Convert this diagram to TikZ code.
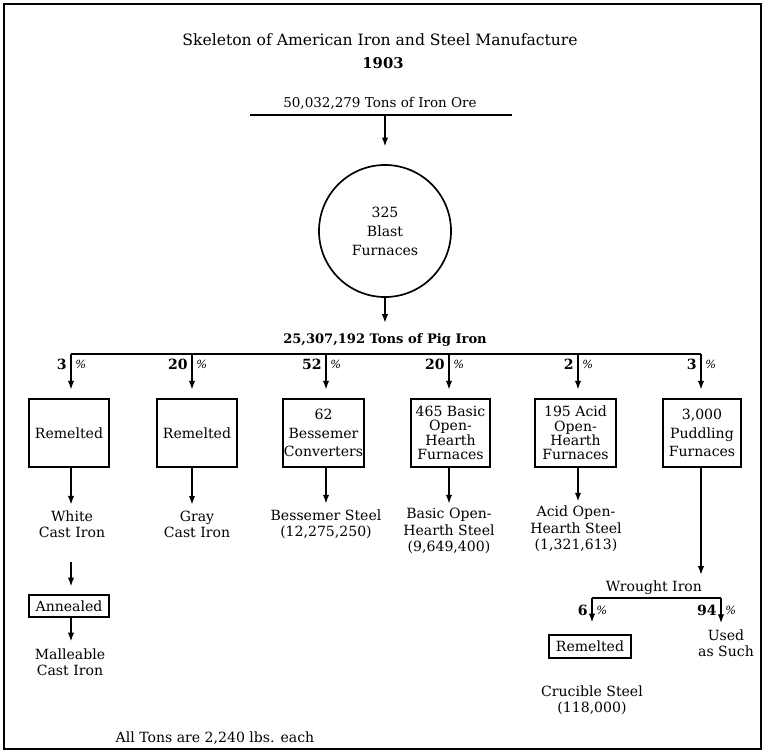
\documentclass[tikz,border=0pt]{standalone}
\usepackage{fontspec}
\setmainfont{DejaVu Serif}
\usetikzlibrary{arrows.meta,positioning}

\tikzset{
  box/.style={draw, line width=1.2pt, inner sep=0pt, align=center,
    minimum height=1.7cm, font=\fontsize{10}{13}\selectfont},
  lbl/.style={align=center, inner sep=1pt, font=\fontsize{10}{11.7}\selectfont},
  flow/.style={-{Latex[length=6pt,width=4.5pt]}, line width=0.8pt},
  share/.style={inner sep=0pt, font=\fontsize{10}{10}\selectfont\bfseries},
  pct/.style={inner sep=0pt, font=\fontsize{8}{8}\selectfont\itshape},
}

\begin{document}
\begin{tikzpicture}[x=0.025cm, y=-0.025cm]
\useasboundingbox (0,0) rectangle (769,751);
\draw[line width=1.5pt] (4,4) rectangle (761,749);

% titulo
\node[font=\fontsize{11.1}{12}\selectfont] (title) at (380,40) {Skeleton of American Iron and Steel Manufacture};
\node[font=\fontsize{10.5}{12}\selectfont\bfseries] (year) at (383,63) {1903};

% minerio
\node[font=\fontsize{9.6}{10}\selectfont] (ore) at (380,103) {50,032,279 Tons of Iron Ore};
\coordinate (oreL) at (250,115);
\coordinate (oreR) at (512,115);
\coordinate (oreM) at (385,115);
\draw[line width=2pt] (oreL) -- (oreR);

\node[circle, draw, line width=1.2pt, minimum size=3.3cm, align=center,
  font=\fontsize{10}{13.5}\selectfont] (blast) at (385,231) {325\\Blast\\Furnaces};
\draw[flow, shorten >=0.45cm] (oreM) -- (blast.north);

% gusa
\node[font=\fontsize{9.3}{10}\selectfont\bfseries] (pig) at (385,340) {25,307,192 Tons of Pig Iron};
\draw[flow, shorten >=0.15cm] (blast.south) -- (pig.north);

\coordinate (t1) at (71,354);
\coordinate (t2) at (192,354);
\coordinate (t3) at (326,354);
\coordinate (t4) at (449,354);
\coordinate (t5) at (578,354);
\coordinate (t6) at (701,354);
\draw[line width=0.9pt] (t1) -- (t6);

% caixas
\node[box, minimum width=2cm] (remA) at (69,433) {Remelted};
\node[box, minimum width=2cm] (remB) at (197,433) {Remelted};
\node[box, minimum width=2.02cm] (bessC) at (323.5,433) {62\\Bessemer\\Converters};
\node[box, minimum width=1.98cm, font=\fontsize{10}{10.2}\selectfont] (basicF) at (450.5,433) {465 Basic\\Open-\\Hearth\\Furnaces};
\node[box, minimum width=2.02cm, font=\fontsize{10}{10.2}\selectfont] (acidF) at (575.5,433) {195 Acid\\Open-\\Hearth\\Furnaces};
\node[box, minimum width=1.95cm] (puddF) at (702,433) {3,000\\Puddling\\Furnaces};

\draw[flow, shorten >=0.22cm] (t1) -- (t1 |- remA.north);
\draw[flow, shorten >=0.22cm] (t2) -- (t2 |- remB.north);
\draw[flow, shorten >=0.22cm] (t3) -- (t3 |- bessC.north);
\draw[flow, shorten >=0.22cm] (t4) -- (t4 |- basicF.north);
\draw[flow, shorten >=0.22cm] (t5) -- (t5 |- acidF.north);
\draw[flow, shorten >=0.22cm] (t6) -- (t6 |- puddF.north);

% percentagens
\node[share, anchor=east] (p1) at (67,364) {3};
\node[pct, anchor=west] (q1) at (75,364) {\%};
\node[share, anchor=east] (p2) at (188,364) {20};
\node[pct, anchor=west] (q2) at (196,364) {\%};
\node[share, anchor=east] (p3) at (322,364) {52};
\node[pct, anchor=west] (q3) at (330,364) {\%};
\node[share, anchor=east] (p4) at (445,364) {20};
\node[pct, anchor=west] (q4) at (453,364) {\%};
\node[share, anchor=east] (p5) at (574,364) {2};
\node[pct, anchor=west] (q5) at (582,364) {\%};
\node[share, anchor=east] (p6) at (697,364) {3};
\node[pct, anchor=west] (q6) at (705,364) {\%};

% produtos
\node[lbl] (white) at (72,524.5) {White\\Cast Iron};
\node[lbl] (gray) at (197,524.5) {Gray\\Cast Iron};
\node[lbl] (bess) at (326,524.5) {Bessemer Steel\\(12,275,250)};
\node[lbl] (basic) at (449,531) {Basic Open-\\Hearth Steel\\(9,649,400)};
\node[lbl] (acid) at (576,529) {Acid Open-\\Hearth Steel\\(1,321,613)};

\draw[flow, shorten >=0.12cm] (t1 |- remA.south) -- (t1 |- white.north);
\draw[flow, shorten >=0.12cm] (t2 |- remB.south) -- (t2 |- gray.north);
\draw[flow, shorten >=0.12cm] (t3 |- bessC.south) -- (t3 |- bess.north);
\draw[flow, shorten >=0.08cm] (t4 |- basicF.south) -- (t4 |- basic.north);
\draw[flow, shorten >=0.08cm] (t5 |- acidF.south) -- (t5 |- acid.north);

% maleavel
\node[box, minimum width=2cm, minimum height=0.55cm] (anneal) at (69,606) {Annealed};
\node[lbl] (mall) at (70,662.5) {Malleable\\Cast Iron};
\draw[flow, shorten <=0.55cm, shorten >=0.2cm] (t1 |- white.south) -- (t1 |- anneal.north);
\draw[flow, shorten >=0.15cm] (t1 |- anneal.south) -- (t1 |- mall.north);

% ferro pudlado
\node[lbl] (wrought) at (654,588) {Wrought Iron};
\draw[flow, shorten >=0.12cm] (t6 |- puddF.south) -- (t6 |- wrought.north);
\coordinate (wL) at (592,598);
\coordinate (wR) at (721,598);
\draw[line width=0.9pt] (wL) -- (wR);

\node[box, minimum width=2.05cm, minimum height=0.575cm] (remC) at (590,646.5) {Remelted};
\node[lbl] (used) at (726,643) {Used\\as Such};
\draw[flow, shorten >=0.3cm] (wL) -- (wL |- remC.north);
\draw[flow, shorten >=0.12cm] (wR) -- (wR |- used.north);

\node[share, anchor=east] (p7) at (588,610) {6};
\node[pct, anchor=west] (q7) at (596,610) {\%};
\node[share, anchor=east] (p8) at (717,610) {94};
\node[pct, anchor=west] (q8) at (725,610) {\%};

\node[lbl] (cruc) at (592,700.5) {Crucible Steel\\(118,000)};

% nota
\node[lbl] (note) at (215,738) {All Tons are 2,240 lbs. each};

\end{tikzpicture}
\end{document}
